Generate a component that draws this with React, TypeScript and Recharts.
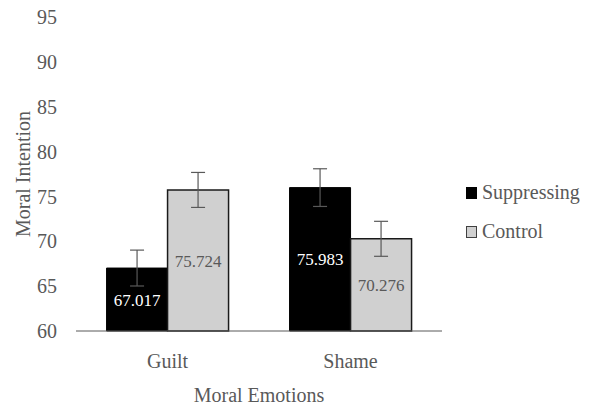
import React from 'react';
import { BarChart, Bar, XAxis, YAxis, ErrorBar, LabelList } from 'recharts';

const emotions = ['Guilt', 'Shame'];
const suppressing = [67.017, 75.983];
const control = [75.724, 70.276];
const suppressingErr = [2.0, 2.1];
const controlErr = [1.95, 1.95];
const yTicks = [60, 65, 70, 75, 80, 85, 90, 95];

const data = emotions.map((name, i) => ({
  name,
  suppressing: suppressing[i],
  control: control[i],
  suppressingErr: suppressingErr[i],
  controlErr: controlErr[i],
}));

const font = '"Liberation Serif", "Times New Roman", serif';
const grey = '#595959';

const legendItems = [
  { label: 'Suppressing', fill: '#000000', border: '#000000' },
  { label: 'Control', fill: '#d0d0d0', border: '#404040' },
];

const LegendBox = () => (
  <div
    style={{
      position: 'absolute',
      top: 173,
      left: 466,
      fontFamily: font,
      fontSize: 20,
      color: grey,
      lineHeight: '39px',
    }}
  >
    {legendItems.map((it) => (
      <div key={it.label} style={{ display: 'flex', alignItems: 'center' }}>
        <span
          style={{
            display: 'inline-block',
            width: 9,
            height: 10,
            background: it.fill,
            border: `1px solid ${it.border}`,
            marginRight: 5,
          }}
        />
        {it.label}
      </div>
    ))}
  </div>
);

export default function App() {
  return (
    <div style={{ position: 'relative', width: 592, height: 407 }}>
      <style>{`body{margin:0}`}</style>
      <BarChart
        width={592}
        height={407}
        data={data}
        margin={{ top: 17, right: 150, left: 0, bottom: 0 }}
        barCategoryGap="16.7%"
        barGap={0}
      >
        <XAxis
          dataKey="name"
          height={76}
          tickLine={false}
          tickSize={0}
          tickMargin={23}
          axisLine={{ stroke: grey }}
          tick={{ fill: grey, fontSize: 20, fontFamily: font }}
          label={{
            value: 'Moral Emotions',
            position: 'insideBottom',
            offset: 5,
            fill: grey,
            fontSize: 20,
            fontFamily: font,
          }}
        />
        <YAxis
          width={76}
          domain={[60, 95]}
          ticks={yTicks}
          interval={0}
          axisLine={false}
          tickLine={false}
          tickSize={0}
          tickMargin={19}
          tick={{ fill: grey, fontSize: 20, fontFamily: font }}
          label={{
            content: ({ viewBox }: any) => {
              const x = viewBox.x + 30;
              const y = viewBox.y + viewBox.height / 2;
              return (
                <text
                  x={x}
                  y={y}
                  transform={`rotate(-90 ${x} ${y})`}
                  textAnchor="middle"
                  fill={grey}
                  fontSize={20}
                  fontFamily={font}
                >
                  Moral Intention
                </text>
              );
            },
          }}
        />
        <Bar dataKey="suppressing" fill="#000000" stroke="#000000" isAnimationActive={false}>
          <ErrorBar dataKey="suppressingErr" width={7} stroke={grey} strokeWidth={1.2} />
          <LabelList
            dataKey="suppressing"
            position="center"
            fill="#ffffff"
            textAnchor="middle"
            fontSize={17}
            fontFamily={font}
            formatter={(v: number) => v.toFixed(3)}
          />
        </Bar>
        <Bar dataKey="control" fill="#d0d0d0" stroke="#1a1a1a" strokeWidth={1.5} isAnimationActive={false}>
          <ErrorBar dataKey="controlErr" width={7} stroke={grey} strokeWidth={1.2} />
          <LabelList
            dataKey="control"
            position="center"
            fill={grey}
            stroke="none"
            textAnchor="middle"
            fontSize={17}
            fontFamily={font}
            formatter={(v: number) => v.toFixed(3)}
          />
        </Bar>
      </BarChart>
      <LegendBox />
    </div>
  );
}
